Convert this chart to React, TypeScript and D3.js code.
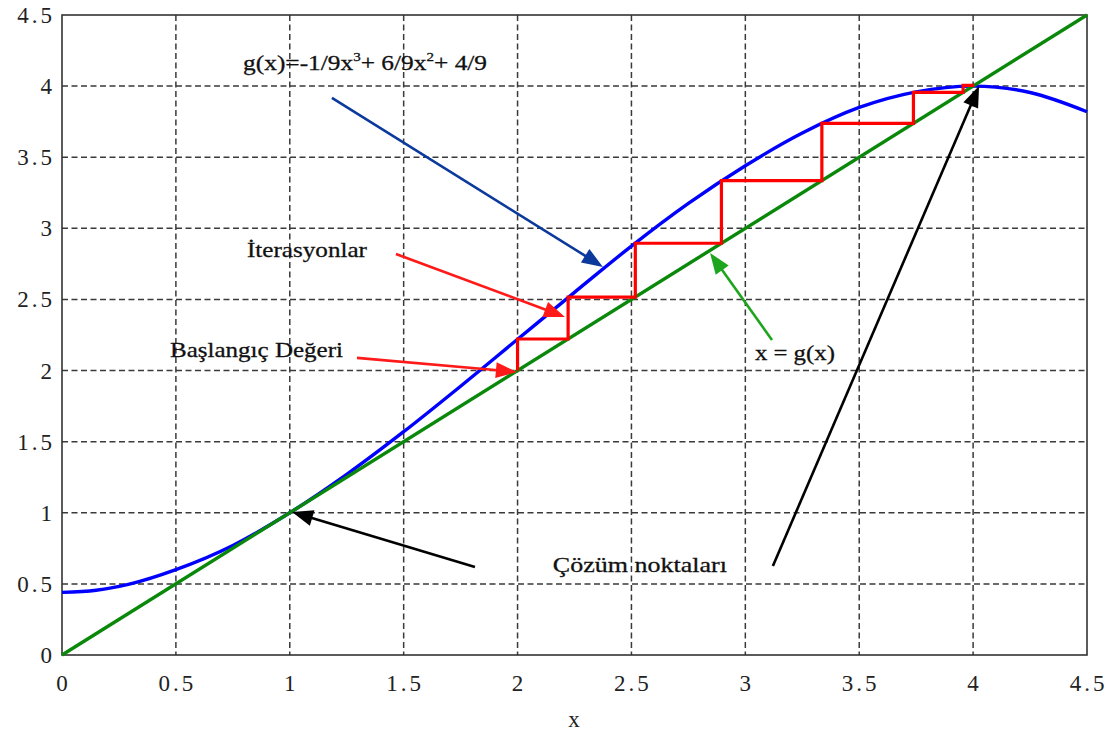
import React from 'react';
import * as d3 from 'd3';

// ---- data ----
const tickValues = [0, 0.5, 1, 1.5, 2, 2.5, 3, 3.5, 4, 4.5];
const tickLabels = ['0', '0.5', '1', '1.5', '2', '2.5', '3', '3.5', '4', '4.5'];

// g(x) curve
const curveX = [0, 0.15, 0.3, 0.5, 0.75, 1, 1.25, 1.5, 1.75, 2, 2.25, 2.5, 2.75, 3, 3.25, 3.5, 3.75, 4, 4.25, 4.5];
const curveY = [0.44, 0.455, 0.5, 0.6, 0.77, 1.0, 1.27, 1.57, 1.89, 2.22, 2.55, 2.875, 3.175, 3.44, 3.67, 3.85, 3.96, 4.0, 3.955, 3.82];

// x = g(x) line
const lineX = [0, 4.5];
const lineY = [0, 4.5];

// fixed-point iterations
const iterations = [2, 2.222, 2.517, 2.895, 3.336, 3.738, 3.956, 4.005];

// annotation arrows (data coordinates): tail -> tip
const arrowTailX = [1.185, 1.466, 1.295, 3.117, 1.813, 3.121];
const arrowTailY = [3.917, 2.82, 2.089, 2.215, 0.619, 0.626];
const arrowTipX = [2.375, 2.208, 1.997, 2.845, 1.01, 4.026];
const arrowTipY = [2.729, 2.377, 1.99, 2.827, 1.006, 4.0];
const arrowColors = ['#0b3a9c', '#ff1a1a', '#ff1a1a', '#1ea51e', '#000000', '#000000'];

// annotation texts (data coordinates of left/baseline)
const noteTexts = ['İterasyonlar', 'Başlangıç Değeri', 'x = g(x)', 'Çözüm noktaları'];
const noteX = [0.812, 0.474, 3.042, 2.155];
const noteY = [2.799, 2.096, 2.075, 0.584];
const noteWidth = [120, 173, 80, 174];

const W = 1116;
const H = 740;
const left = 62, right = 1087, top = 15, bottom = 655;

export default function App() {
  const x = d3.scaleLinear().domain([0, 4.5]).range([left, right]);
  const y = d3.scaleLinear().domain([0, 4.5]).range([bottom, top]);

  const line = d3
    .line<[number, number]>()
    .x((d) => x(d[0]))
    .y((d) => y(d[1]));
  const smooth = d3
    .line<[number, number]>()
    .x((d) => x(d[0]))
    .y((d) => y(d[1]))
    .curve(d3.curveMonotoneX);

  const curvePts: [number, number][] = curveX.map((v, i) => [v, curveY[i]]);
  const linePts: [number, number][] = lineX.map((v, i) => [v, lineY[i]]);
  const stairs: [number, number][] = [];
  for (let i = 0; i < iterations.length - 1; i++) {
    stairs.push([iterations[i], iterations[i]]);
    stairs.push([iterations[i], iterations[i + 1]]);
  }
  stairs.push([iterations[iterations.length - 1], iterations[iterations.length - 1]]);

  const serif = "'Liberation Serif', 'Times New Roman', serif";

  const arrows = arrowTailX.map((_, i) => {
    const x1 = x(arrowTailX[i]), y1 = y(arrowTailY[i]);
    const x2 = x(arrowTipX[i]), y2 = y(arrowTipY[i]);
    const dx = x2 - x1, dy = y2 - y1;
    const len = Math.hypot(dx, dy);
    const ux = dx / len, uy = dy / len;
    const hl = 21, hw = 8;
    const bx = x2 - ux * hl, by = y2 - uy * hl;
    const pts = [
      [x2, y2],
      [bx - uy * hw, by + ux * hw],
      [bx + uy * hw, by - ux * hw],
    ];
    return (
      <g key={'a' + i}>
        <line x1={x1} y1={y1} x2={bx + ux * 2} y2={by + uy * 2} stroke={arrowColors[i]} strokeWidth={2.6} />
        <polygon points={pts.map((p) => p.join(',')).join(' ')} fill={arrowColors[i]} />
      </g>
    );
  });

  return (
    <svg width={W} height={H} style={{ position: 'absolute', left: 0, top: 0, background: '#fff' }}>
      <rect x={0} y={0} width={W} height={H} fill="#fff" />
      {/* grid */}
      {tickValues.slice(1, -1).map((t) => (
        <line key={'gx' + t} x1={x(t)} x2={x(t)} y1={top} y2={bottom} stroke="#3a3a3a" strokeWidth={1.5} strokeDasharray="6,3.5" />
      ))}
      {tickValues.slice(1, -1).map((t) => (
        <line key={'gy' + t} x1={left} x2={right} y1={y(t)} y2={y(t)} stroke="#3a3a3a" strokeWidth={1.5} strokeDasharray="6,3.5" />
      ))}
      {/* box */}
      <rect x={left} y={top} width={right - left} height={bottom - top} fill="none" stroke="#333" strokeWidth={1.6} />

      {/* tick labels */}
      {tickValues.map((t, i) => (
        <text key={'tx' + t} x={x(t) + 1.5} y={691} textAnchor="middle" fontFamily={serif} fontSize={23} letterSpacing={3} fill="#222">
          {tickLabels[i]}
        </text>
      ))}
      {tickValues.map((t, i) => (
        <text key={'ty' + t} x={55} y={y(t) + 8} textAnchor="end" fontFamily={serif} fontSize={23} letterSpacing={3} fill="#222">
          {tickLabels[i]}
        </text>
      ))}
      <text x={574} y={727} textAnchor="middle" fontFamily={serif} fontSize={23} fill="#222">x</text>

      {/* curves */}
      <path d={smooth(curvePts) || ''} fill="none" stroke="#0000ff" strokeWidth={3.4} />
      <path d={line(linePts) || ''} fill="none" stroke="#0a880a" strokeWidth={3.4} />
      <path d={line(stairs) || ''} fill="none" stroke="#ff0000" strokeWidth={3.2} strokeLinejoin="miter" />

      {/* arrows */}
      {arrows}

      {/* formula text */}
      <text x={x(0.795)} y={y(4.114)} fontFamily={serif} fontSize={22} fill="#111" stroke="#111" strokeWidth={0.3} textLength={244} lengthAdjust="spacingAndGlyphs">
        g(x)=-1/9x
        <tspan fontSize={13} dy={-9}>3</tspan>
        <tspan dy={9}>+ 6/9x</tspan>
        <tspan fontSize={13} dy={-9}>2</tspan>
        <tspan dy={9}>+ 4/9</tspan>
      </text>

      {noteTexts.map((t, i) => (
        <text key={'n' + i} x={x(noteX[i])} y={y(noteY[i])} fontFamily={serif} fontSize={22} fill="#111" stroke="#111" strokeWidth={0.3} textLength={noteWidth[i]} lengthAdjust="spacingAndGlyphs">
          {t}
        </text>
      ))}
    </svg>
  );
}
